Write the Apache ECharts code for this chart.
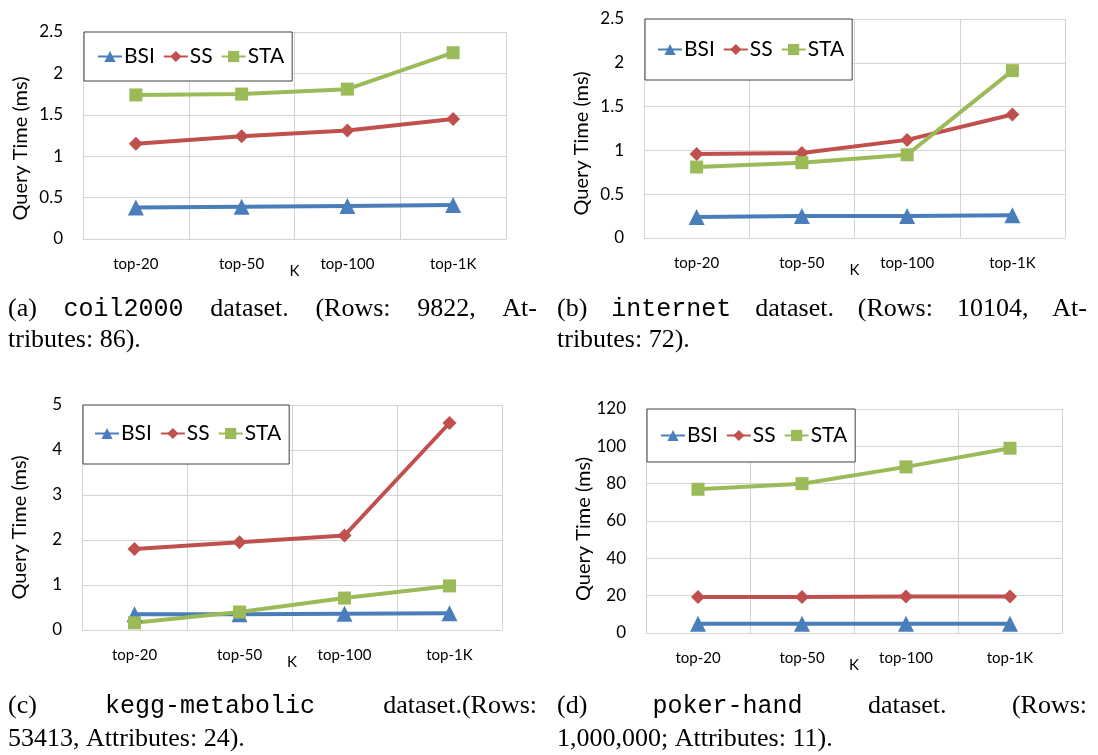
<!DOCTYPE html>
<html>
<head>
<meta charset="utf-8">
<script src="https://cdn.jsdelivr.net/npm/echarts@6/dist/echarts.min.js"></script>
<style>
  html, body { margin: 0; background: #fff; }
  #chart { width: 1098px; height: 755px; }
</style>
</head>
<body>
<div id="chart"></div>
<script>
// categories and series names shared by every panel
const categories = ['top-20', 'top-50', 'top-100', 'top-1K'];
const seriesNames = ['BSI', 'SS', 'STA'];

// (a) coil2000
const coilBSI = [0.38, 0.39, 0.40, 0.41];
const coilSS = [1.15, 1.24, 1.31, 1.45];
const coilSTA = [1.74, 1.75, 1.81, 2.25];

// (b) internet
const internetBSI = [0.24, 0.25, 0.25, 0.26];
const internetSS = [0.96, 0.97, 1.12, 1.41];
const internetSTA = [0.81, 0.86, 0.95, 1.91];

// (c) kegg-metabolic
const keggBSI = [0.35, 0.35, 0.36, 0.37];
const keggSS = [1.8, 1.95, 2.1, 4.6];
const keggSTA = [0.16, 0.4, 0.71, 0.98];

// (d) poker-hand
const pokerBSI = [5, 5, 5, 5];
const pokerSS = [19.3, 19.3, 19.5, 19.6];
const pokerSTA = [77, 80, 89, 99];

const yMax = [2.5, 2.5, 5, 120];
const yStep = [0.5, 0.5, 1, 20];

const colors = ['#4A7EBB', '#C0504D', '#9BBB59'];
const symbols = ['triangle', 'diamond', 'rect'];
const symbolSizes = [16, 14, 13];

const chartFont = 'Lato, "Open Sans", sans-serif';
const serif = '"Liberation Serif", "DejaVu Serif", serif';
const mono = '"Liberation Mono", "DejaVu Sans Mono", monospace';

const panels = [
  { data: [coilBSI, coilSS, coilSTA], grid: { left: 83, top: 32, width: 423, height: 207 }, legendPad: [14, 8, 14, 13], nameShift: 13 },
  { data: [internetBSI, internetSS, internetSTA], grid: { left: 644, top: 19, width: 421, height: 219 }, legendPad: [20, 8, 20, 12], nameShift: 15 },
  { data: [keggBSI, keggSS, keggSTA], grid: { left: 82, top: 405, width: 420, height: 225 }, legendPad: [18, 8, 20, 11], nameShift: 10 },
  { data: [pokerBSI, pokerSS, pokerSTA], grid: { left: 646, top: 409, width: 416, height: 224 }, legendPad: [16, 8, 16, 13], nameShift: 8 },
];

const grids = [], xAxes = [], yAxes = [], legends = [], series = [];

panels.forEach((p, i) => {
  grids.push(p.grid);
  xAxes.push({
    type: 'category',
    gridIndex: i,
    data: categories,
    name: 'K',
    nameLocation: 'middle',
    nameGap: 25,
    nameMoveOverlap: false,
    nameTextStyle: { color: '#000', fontSize: 15, fontFamily: chartFont },
    axisLine: { lineStyle: { color: '#D4D4D4' } },
    axisTick: { show: false },
    axisLabel: { color: '#000', fontSize: 15, fontFamily: chartFont, margin: 18, interval: 0 },
    splitLine: { show: true, interval: 0, lineStyle: { color: '#D4D4D4' } },
  });
  yAxes.push({
    type: 'value',
    gridIndex: i,
    min: 0,
    max: yMax[i],
    interval: yStep[i],
    name: 'Query Time (ms)',
    nameLocation: 'middle',
    nameGap: 52,
    nameMoveOverlap: false,
    nameTextStyle: { color: '#000', fontSize: 20, fontFamily: chartFont, padding: [0, p.nameShift * 2, 0, 0] },
    axisLine: { show: true, lineStyle: { color: '#D4D4D4' } },
    axisTick: { show: false },
    axisLabel: { color: '#000', fontSize: 17, fontFamily: chartFont, margin: 20 },
    splitLine: { lineStyle: { color: '#D4D4D4' } },
  });
  legends.push({
    left: p.grid.left + 1,
    top: p.grid.top,
    data: seriesNames,
    backgroundColor: '#fff',
    borderColor: '#404040',
    borderWidth: 1,
    borderRadius: 0,
    padding: p.legendPad,
    itemGap: 8,
    itemWidth: 24,
    itemHeight: 14,
    selectedMode: false,
    textStyle: { color: '#000', fontSize: 21, fontFamily: chartFont, padding: [0, 0, 0, -3] },
  });
  p.data.forEach((values, k) => {
    series.push({
      type: 'line',
      name: seriesNames[k],
      xAxisIndex: i,
      yAxisIndex: i,
      data: values,
      symbol: symbols[k],
      symbolSize: symbolSizes[k],
      color: colors[k],
      lineStyle: { width: 4, color: colors[k] },
      itemStyle: { color: colors[k] },
      animation: false,
    });
  });
});

// captions, first line justified to the column width
const capSize = 26;
const monoSize = 25;
const measureCtx = document.createElement('canvas').getContext('2d');
function wordWidth(w) {
  measureCtx.font = (w.mono ? monoSize : capSize) + 'px ' + (w.mono ? mono : serif);
  return measureCtx.measureText(w.t).width;
}
function justified(words, x0, x1, y) {
  const widths = words.map(wordWidth);
  const total = widths.reduce((a, b) => a + b, 0);
  const gap = (x1 - x0 - total) / (words.length - 1);
  let x = x0;
  return words.map((w, j) => {
    const el = {
      type: 'text', x: x, y: y,
      style: {
        text: w.t,
        fontSize: w.mono ? monoSize : capSize,
        fontFamily: w.mono ? mono : serif,
        fill: '#000',
        verticalAlign: 'middle',
      },
    };
    x += widths[j] + gap;
    return el;
  });
}
function plain(text, x, y) {
  return { type: 'text', x: x, y: y, style: { text: text, fontSize: capSize, fontFamily: serif, fill: '#000', verticalAlign: 'middle' } };
}

const captions = [].concat(
  justified([{ t: '(a)' }, { t: 'coil2000', mono: true }, { t: 'dataset.' }, { t: '(Rows:' }, { t: '9822,' }, { t: 'At-' }], 8, 537, 309),
  [plain('tributes: 86).', 8, 340)],
  justified([{ t: '(b)' }, { t: 'internet', mono: true }, { t: 'dataset.' }, { t: '(Rows:' }, { t: '10104,' }, { t: 'At-' }], 557, 1087, 309),
  [plain('tributes: 72).', 557, 340)],
  justified([{ t: '(c)' }, { t: 'kegg-metabolic', mono: true }, { t: 'dataset.(Rows:' }], 8, 537, 706),
  [plain('53413, Attributes: 24).', 8, 739)],
  justified([{ t: '(d)' }, { t: 'poker-hand', mono: true }, { t: 'dataset.' }, { t: '(Rows:' }], 557, 1087, 706),
  [plain('1,000,000; Attributes: 11).', 557, 739)]
);

const chart = echarts.init(document.getElementById('chart'), null, { renderer: 'canvas' });
chart.setOption({
  animation: false,
  backgroundColor: '#fff',
  grid: grids,
  xAxis: xAxes,
  yAxis: yAxes,
  legend: legends,
  series: series,
  graphic: captions,
});
</script>
</body>
</html>
